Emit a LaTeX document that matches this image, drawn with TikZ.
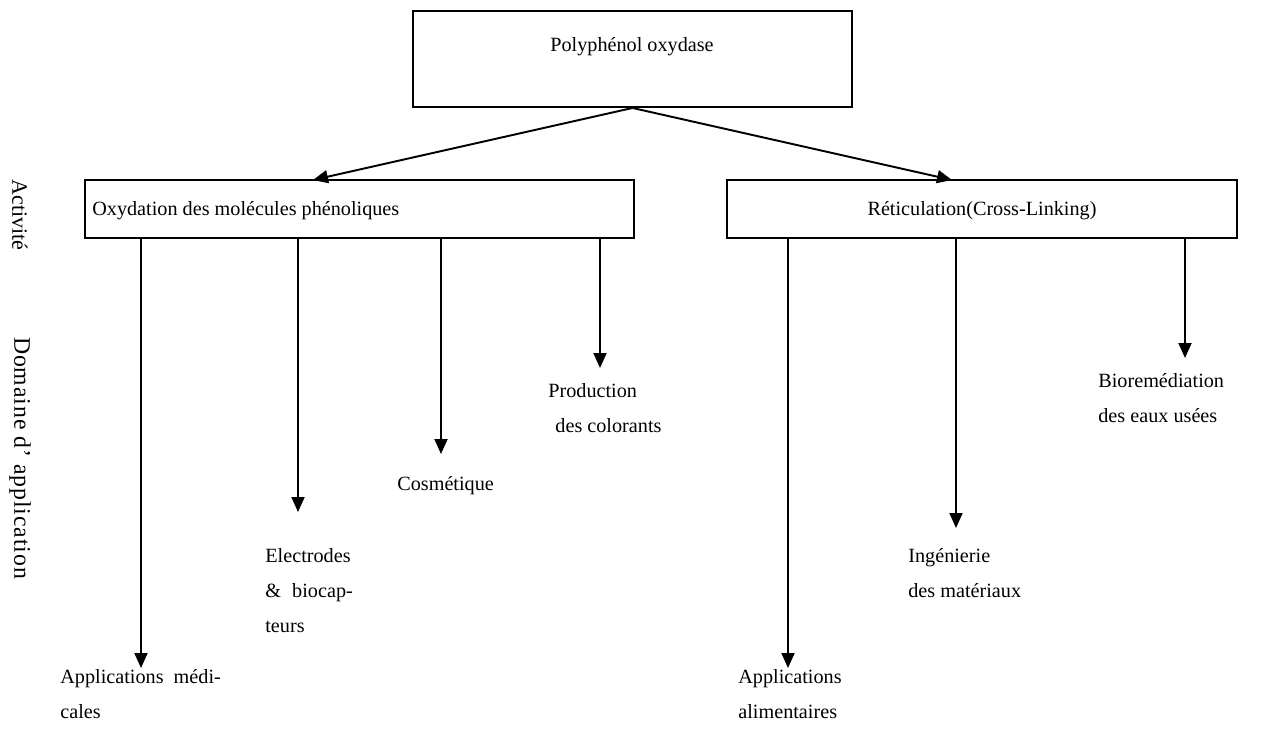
\documentclass[tikz,border=0pt]{standalone}
\usepackage{fontspec}
\setmainfont{Liberation Serif}
\newfontfamily\spaced[LetterSpace=4]{Liberation Serif}
\usetikzlibrary{arrows.meta}
\tikzset{
  box/.style={draw, line width=1.1pt, inner sep=0pt},
  lbl/.style={anchor=north west, align=left, inner sep=0pt, font=\fontsize{11.5}{20}\selectfont},
  arr/.style={line width=1.1pt, -{Triangle[length=3mm, width=2.6mm]}},
  side/.style={rotate=-90, inner sep=0pt, font=\fontsize{12.5}{15}\selectfont}
}
\begin{document}
\begin{tikzpicture}[x=0.02cm, y=-0.02cm]
		\useasboundingbox (0,0) rectangle (1271,734);
		
		%Enzyme
		\node[box, minimum width=439*0.02cm, minimum height=96*0.02cm] (ppo) at (632.5,59) {};
		\node[lbl, anchor=center] (ppoT) at (632,47) {Polyphénol oxydase};
		
		%Activity boxes
		\node[box, minimum width=549*0.02cm, minimum height=58*0.02cm] (oxy) at (359.5,209) {};
		\node[lbl, anchor=west] (oxyT) at (92,211) {Oxydation des molécules phénoliques};
		\node[box, minimum width=510*0.02cm, minimum height=58*0.02cm] (ret) at (982,209) {};
		\node[lbl, anchor=center] (retT) at (982,211) {Réticulation(Cross-Linking)};
		
		\coordinate (oxyIn) at (313,180);
		\coordinate (retIn) at (952,180);
		\draw[arr] (ppo.south) -- (oxyIn);
		\draw[arr] (ppo.south) -- (retIn);
		
		%Side texts
		\node[side] (act) at (20,215) {Activité};
		\node[side] (dom) at (20,458) {\fontsize{13.5}{15}\spaced Domaine d’ application};
		
		%Oxydation branch
		\node[lbl] (med) at (60,669) {Applications\hspace{0.5em}médi-\\cales};
		\node[lbl] (elec) at (265,548) {Electrodes\\\makebox[1.75cm][s]{\&\hfill biocap-}\\teurs};
		\node[lbl] (cosm) at (397,476) {Cosmétique};
		\node[lbl] (prod) at (548,383) {Production\\\hspace{0.35em}des colorants};
		\coordinate (tMed) at (141,668);
		\coordinate (tElec) at (298,512);
		\coordinate (tCosm) at (441,454);
		\coordinate (tProd) at (600,368);
		\foreach \t in {tMed,tElec,tCosm,tProd}
			\draw[arr] (oxy.south -| \t) -- (\t);
		
		%Reticulation branch
		\node[lbl] (alim) at (738,669) {Applications\\alimentaires};
		\node[lbl] (ing) at (908,548) {Ingénierie\\des matériaux};
		\node[lbl] (bio) at (1098,373) {Bioremédiation\\des eaux usées};
		\coordinate (tAlim) at (788,668);
		\coordinate (tIng) at (956,528);
		\coordinate (tBio) at (1185,358);
		\foreach \t in {tAlim,tIng,tBio}
			\draw[arr] (ret.south -| \t) -- (\t);
	\end{tikzpicture}
\end{document}
